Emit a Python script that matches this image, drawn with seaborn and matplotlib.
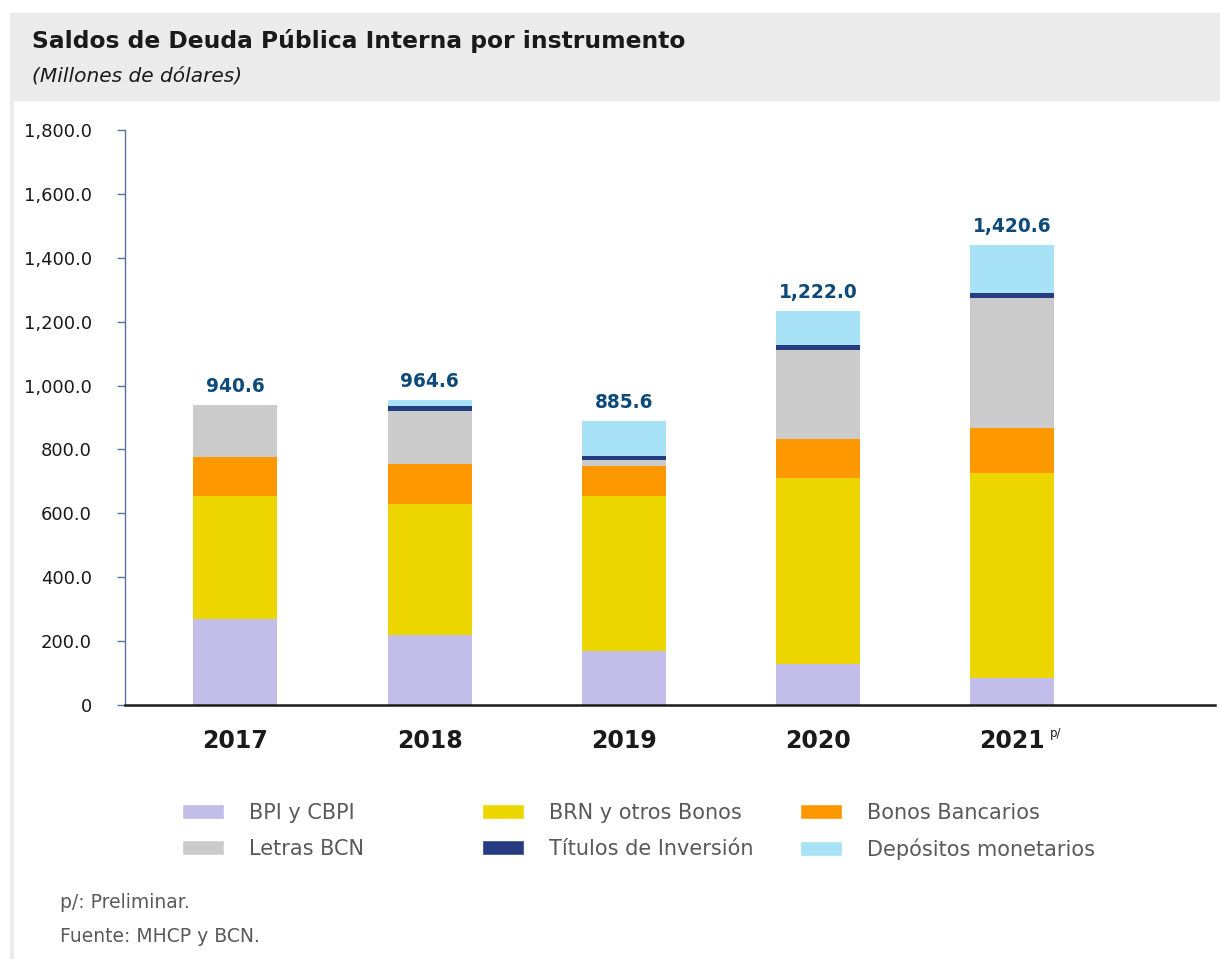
import numpy as np
import pandas as pd
import seaborn as sns
import matplotlib
import matplotlib.pyplot as plt
from matplotlib.patches import Patch, Rectangle

# data (millones de dolares)
years = ["2017", "2018", "2019", "2020", "2021"]
bpi = [268.0, 219.0, 169.0, 129.0, 85.0]
brn = [386.0, 410.0, 485.0, 582.0, 641.0]
bonos_banc = [122.0, 125.0, 95.0, 122.0, 141.0]
letras = [164.6, 166.0, 18.0, 278.0, 407.0]
titulos = [0.0, 15.0, 12.0, 16.0, 16.0]
depositos = [0.0, 20.0, 110.0, 106.0, 150.0]
totals = [940.6, 964.6, 885.6, 1222.0, 1420.6]
totals_txt = ["940.6", "964.6", "885.6", "1,222.0", "1,420.6"]

series_names = ["BPI y CBPI", "BRN y otros Bonos", "Bonos Bancarios",
                "Letras BCN", "Títulos de Inversión", "Depósitos monetarios"]
series_vals = [bpi, brn, bonos_banc, letras, titulos, depositos]
colors = ["#C3BDEA", "#EDD500", "#FD9800", "#CBCBCB", "#253C81", "#A8E2F7"]

sns.set_style("white")
plt.rcParams['font.family'] = ['DejaVu Sans']

W, H = 1220, 959
fig = plt.figure(figsize=(W / 100, H / 100), dpi=100)

# header band + left border
fig.patches.append(Rectangle((10 / W, 1 - 100 / H), 1 - 10 / W, 87 / H,
                             transform=fig.transFigure, color="#EBEBEB", zorder=0))
fig.patches.append(Rectangle((10 / W, 0), 3 / W, 1 - 100 / H,
                             transform=fig.transFigure, color="#EBEBEB", zorder=0))

fig.text(32 / W, 1 - 41 / H, "Saldos de Deuda Pública Interna por instrumento",
         weight="bold", fontsize=16.8, color="#1A1A1A", va="center")
fig.text(32 / W, 1 - 76 / H, "(Millones de dólares)",
         style="italic", fontsize=14.5, color="#1A1A1A", va="center")

ax = fig.add_axes([125 / W, 1 - 705 / H, (1215 - 125) / W, (705 - 130) / H])

# stacked bars: draw cumulative sums from the top layer down
cum = np.cumsum(np.array(series_vals), axis=0)
for i in range(len(series_vals) - 1, -1, -1):
    df = pd.DataFrame({"year": years, "val": cum[i]})
    sns.barplot(data=df, x="year", y="val", order=years, color=colors[i],
                saturation=1, width=0.432, linewidth=0, ax=ax)

for k in range(len(years)):
    ax.text(k, cum[-1][k] + 28, totals_txt[k], ha="center", va="bottom",
            fontsize=13.4, weight="bold", color="#0D4A7A")

ax.set_xlim(-0.568, 5.043)
ax.set_ylim(0, 1800)
ax.set_yticks(np.arange(0, 1801, 200))
ax.set_yticklabels(["0"] + ["{:,.1f}".format(v) for v in np.arange(200, 1801, 200)])
ax.set_xlabel("")
ax.set_ylabel("")
for s in ["top", "right"]:
    ax.spines[s].set_visible(False)
ax.spines["left"].set_color("#5B7199")
ax.spines["left"].set_linewidth(1.0)
ax.spines["bottom"].set_color("#1A1A1A")
ax.spines["bottom"].set_linewidth(1.8)
ax.tick_params(axis="y", direction="out", length=6, width=1, color="#5B7199",
               labelsize=13, labelcolor="#1A1A1A", pad=18, left=True)
ax.tick_params(axis="x", length=0, labelsize=17, pad=17, labelcolor="#1A1A1A")
for lab in ax.get_xticklabels():
    lab.set_fontweight("bold")

fig.text(1050 / W, 1 - 733 / H, "p/", fontsize=8.5, color="#1A1A1A", va="center")

# legend, three columns of two rows
cols = [(0, 3), (1, 4), (2, 5)]
col_x = [182, 482, 800]
for (a, b), cx in zip(cols, col_x):
    hs = [Patch(facecolor=colors[a], label=series_names[a]),
          Patch(facecolor=colors[b], label=series_names[b])]
    leg = fig.legend(handles=hs, loc="upper left", bbox_to_anchor=(cx / W, 1 - 803 / H),
                     frameon=False, fontsize=15, handlelength=2.0, handleheight=0.75,
                     handletextpad=1.2, labelspacing=0.75, borderpad=0, borderaxespad=0)
    for t in leg.get_texts():
        t.set_color("#595959")

fig.text(60 / W, 1 - 902 / H, "p/: Preliminar.", fontsize=13.5, color="#595959", va="center")
fig.text(60 / W, 1 - 937 / H, "Fuente: MHCP y BCN.", fontsize=13.5, color="#595959", va="center")

fig.savefig("out.png", dpi=100)
